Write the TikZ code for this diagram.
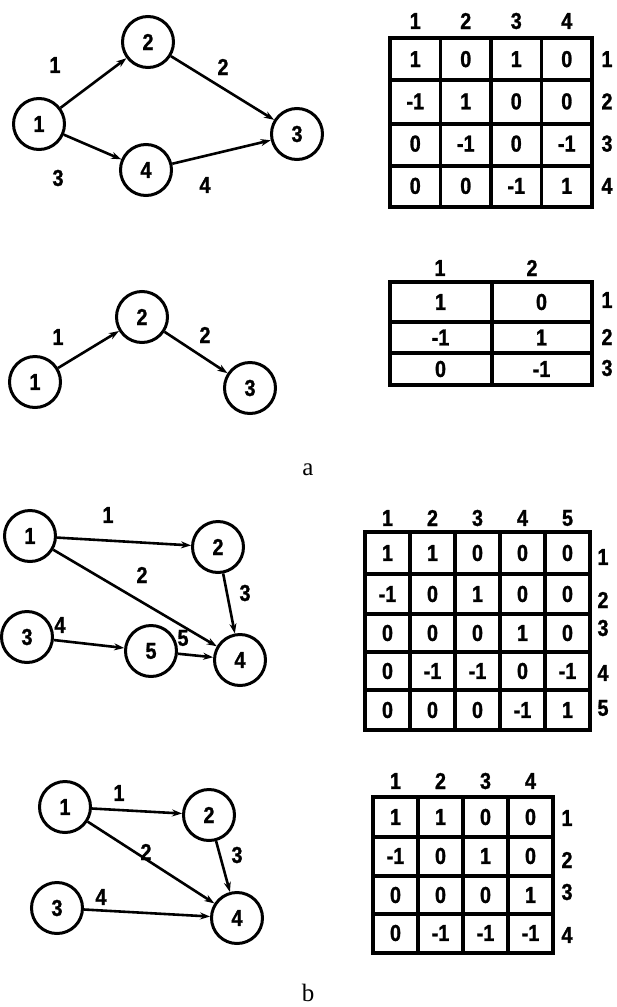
\documentclass[tikz,border=0pt]{standalone}
\usepackage{fontspec}
\setmainfont{Liberation Serif}
\newfontfamily\numfont[FakeStretch=0.86,FakeBold=1.2,UprightFont={* Bold}]{Liberation Sans}
\usepackage{tikz}
\usetikzlibrary{arrows.meta, positioning}

\begin{document}
\begin{tikzpicture}[
          x=1pt, y=-1pt,
          vertex/.style={draw, circle, line width=3pt, minimum size=51pt, inner sep=0pt,
                         font=\numfont\fontsize{23}{23}\selectfont},
          lbl/.style={inner sep=1pt, font=\numfont\fontsize{23}{23}\selectfont},
          num/.style={inner sep=1pt, font=\numfont\fontsize{23}{23}\selectfont},
          arc/.style={-{Stealth[length=10pt, width=7pt]}, line width=2.6pt},
          grid/.style={line width=3.2pt, line cap=round},
          caption/.style={font=\fontsize{25}{25}\selectfont},
        ]
        \useasboundingbox (0,0) rectangle (616,1007);

        % --- a: graph with 4 vertices
        \node[vertex] (a1) at (39,124)  {1};
        \node[vertex] (a2) at (148,42)  {2};
        \node[vertex] (a3) at (297,134) {3};
        \node[vertex] (a4) at (146,170) {4};
        \draw[arc] (a1) -- (a2);
        \draw[arc] (a2) -- (a3);
        \draw[arc] (a1) -- (a4);
        \draw[arc] (a4) -- (a3);
        \node[lbl] (la1) at (55,65)   {1};
        \node[lbl] (la2) at (223,67)  {2};
        \node[lbl] (la3) at (58,178)  {3};
        \node[lbl] (la4) at (205,185) {4};

        % incidence table, 4 x 4
        \draw[grid] (390,38) rectangle (592,207);
        \foreach \x in {440.5,491,541.5} \draw[grid] (\x,38) -- (\x,207);
        \foreach \y in {80,124,166} \draw[grid] (390,\y) -- (592,\y);
        \foreach \r/\vals in {1/{1,0,1,0}, 2/{-1,1,0,0}, 3/{0,-1,0,-1}, 4/{0,0,-1,1}}
          \foreach \v [count=\c] in \vals
            \node[num] (ta-\r-\c) at ({390+50.5*(\c-0.5)}, {38+42.25*(\r-0.5)}) {\v};
        \foreach \c in {1,...,4} \node[num] (ta-h\c) at ({390+50.5*(\c-0.5)}, 21) {\c};
        \foreach \r in {1,...,4} \node[num] (ta-r\r) at (607, {38+42.25*(\r-0.5)}) {\r};

        % --- a: graph with 3 vertices
        \node[vertex] (b1) at (35,382)  {1};
        \node[vertex] (b2) at (142,317) {2};
        \node[vertex] (b3) at (250,388) {3};
        \draw[arc] (b1) -- (b2);
        \draw[arc] (b2) -- (b3);
        \node[lbl] (lb1) at (58,337)  {1};
        \node[lbl] (lb2) at (205,335) {2};

        % incidence table, 3 x 2
        \draw[grid] (390,282) rectangle (592,385);
        \draw[grid] (492,282) -- (492,385);
        \foreach \y in {322,353} \draw[grid] (390,\y) -- (592,\y);
        \foreach \r/\y/\vals in {1/302/{1,0}, 2/337.5/{-1,1}, 3/369/{0,-1}}
          \foreach \v [count=\c] in \vals
            \node[num] (tb-\r-\c) at ({390+101*(\c-0.5)}, \y) {\v};
        \node[num] (tb-h1) at (440,268) {1};
        \node[num] (tb-h2) at (532,268) {2};
        \foreach \r/\y in {1/300, 2/337, 3/368} \node[num] (tb-r\r) at (607,\y) {\r};

        \node[caption] (capa) at (308,470) {a};

        % --- b: graph with 5 vertices
        \node[vertex] (c1) at (30,536)  {1};
        \node[vertex] (c2) at (218,547) {2};
        \node[vertex] (c3) at (27,637)  {3};
        \node[vertex] (c4) at (240,660) {4};
        \node[vertex] (c5) at (151,651) {5};
        \draw[arc] (c1) -- (c2);
        \draw[arc] (c1) -- (c4);
        \draw[arc] (c2) -- (c4);
        \draw[arc] (c3) -- (c5);
        \draw[arc] (c5) -- (c4);
        \node[lbl] (lc1) at (108,515) {1};
        \node[lbl] (lc2) at (142,575) {2};
        \node[lbl] (lc3) at (245,593) {3};
        \node[lbl] (lc4) at (60,625)  {4};
        \node[lbl] (lc5) at (183,638) {5};

        % incidence table, 5 x 5
        \draw[grid] (365,532) rectangle (590,730);
        \foreach \x in {410,455,500,545} \draw[grid] (\x,532) -- (\x,730);
        \foreach \y in {574,614,652,690} \draw[grid] (365,\y) -- (590,\y);
        \foreach \r/\y/\vals in {1/553/{1,1,0,0,0}, 2/594/{-1,0,1,0,0}, 3/633/{0,0,0,1,0},
                                 4/671/{0,-1,-1,0,-1}, 5/710/{0,0,0,-1,1}}
          \foreach \v [count=\c] in \vals
            \node[num] (tc-\r-\c) at ({365+45*(\c-0.5)}, \y) {\v};
        \foreach \c in {1,...,5} \node[num] (tc-h\c) at ({365+45*(\c-0.5)}, 518) {\c};
        \foreach \r/\y in {1/557, 2/600, 3/628, 4/673, 5/708} \node[num] (tc-r\r) at (603,\y) {\r};

        % --- b: graph with 4 vertices
        \node[vertex] (d1) at (65,807)  {1};
        \node[vertex] (d2) at (209,815) {2};
        \node[vertex] (d3) at (57,908)  {3};
        \node[vertex] (d4) at (237,918) {4};
        \draw[arc] (d1) -- (d2);
        \draw[arc] (d1) -- (d4);
        \draw[arc] (d2) -- (d4);
        \draw[arc] (d3) -- (d4);
        \node[lbl] (ld1) at (119,793) {1};
        \node[lbl] (ld2) at (146,852) {2};
        \node[lbl] (ld3) at (237,855) {3};
        \node[lbl] (ld4) at (101,897) {4};

        % incidence table, 4 x 4
        \draw[grid] (373,797) rectangle (553,953);
        \foreach \x in {418,463,508} \draw[grid] (\x,797) -- (\x,953);
        \foreach \y in {837,876,914} \draw[grid] (373,\y) -- (553,\y);
        \foreach \r/\y/\vals in {1/817/{1,1,0,0}, 2/856/{-1,0,1,0}, 3/895/{0,0,0,1}, 4/933/{0,-1,-1,-1}}
          \foreach \v [count=\c] in \vals
            \node[num] (td-\r-\c) at ({373+45*(\c-0.5)}, \y) {\v};
        \foreach \c in {1,...,4} \node[num] (td-h\c) at ({373+45*(\c-0.5)}, 781) {\c};
        \foreach \r/\y in {1/818, 2/860, 3/892, 4/935} \node[num] (td-r\r) at (567,\y) {\r};

        \node[caption] (capb) at (308,993) {b};
      \end{tikzpicture}
\end{document}
